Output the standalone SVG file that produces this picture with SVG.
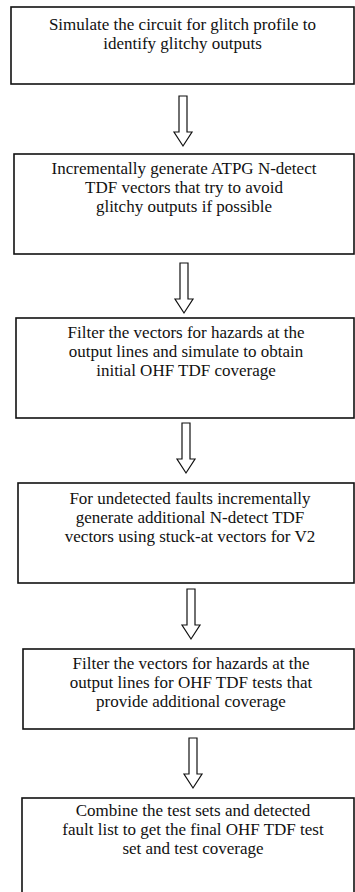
<svg xmlns="http://www.w3.org/2000/svg" xmlns:xlink="http://www.w3.org/1999/xlink" width="355" height="892" viewBox="0 0 355 892">
<style>
.box{fill:#fff;stroke:#111;stroke-width:1.6}
.t{font-family:"Liberation Serif","Times New Roman",serif;font-size:17px;fill:#111;text-anchor:middle}
.arr{fill:#fff;stroke:#111;stroke-width:1.2;stroke-linejoin:miter}
</style>
<defs>
<path id="blockArrow" class="arr" d="M-4,0 H4 V36 H9 L0,50 L-9,36 H-4 Z"/>
</defs>
<rect width="355" height="892" fill="#fff"/>
<g id="connectors">
<use xlink:href="#blockArrow" transform="translate(183,96)"/>
<use xlink:href="#blockArrow" transform="translate(184,263)"/>
<use xlink:href="#blockArrow" transform="translate(186,423)"/>
<use xlink:href="#blockArrow" transform="translate(191,589)"/>
<use xlink:href="#blockArrow" transform="translate(193,738)"/>
</g>
<g id="step1">
<rect class="box" x="11" y="7" width="343" height="77"/>
<text class="t" x="182.5" y="30">Simulate the circuit for glitch profile to</text>
<text class="t" x="182.5" y="49">identify glitchy outputs</text>
</g>
<g id="step2">
<rect class="box" x="14" y="154" width="340" height="100"/>
<text class="t" x="184" y="174">Incrementally generate ATPG N-detect</text>
<text class="t" x="184" y="193">TDF vectors that try to avoid</text>
<text class="t" x="184" y="212">glitchy outputs if possible</text>
</g>
<g id="step3">
<rect class="box" x="16" y="318" width="338" height="100"/>
<text class="t" x="186" y="338">Filter the vectors for hazards at the</text>
<text class="t" x="186" y="357">output lines and simulate to obtain</text>
<text class="t" x="186" y="376">initial OHF TDF coverage</text>
</g>
<g id="step4">
<rect class="box" x="18" y="483" width="336" height="100"/>
<text class="t" x="190" y="504">For undetected faults incrementally</text>
<text class="t" x="190" y="523">generate additional N-detect TDF</text>
<text class="t" x="190" y="542">vectors using stuck-at vectors for V2</text>
</g>
<g id="step5">
<rect class="box" x="23" y="649" width="331" height="80"/>
<text class="t" x="191" y="669">Filter the vectors for hazards at the</text>
<text class="t" x="191" y="688">output lines for OHF TDF tests that</text>
<text class="t" x="191" y="707">provide additional coverage</text>
</g>
<g id="step6">
<rect class="box" x="22" y="798" width="332" height="100"/>
<text class="t" x="193" y="816">Combine the test sets and detected</text>
<text class="t" x="193" y="835">fault list to get the final OHF TDF test</text>
<text class="t" x="193" y="854">set and test coverage</text>
</g>
</svg>
